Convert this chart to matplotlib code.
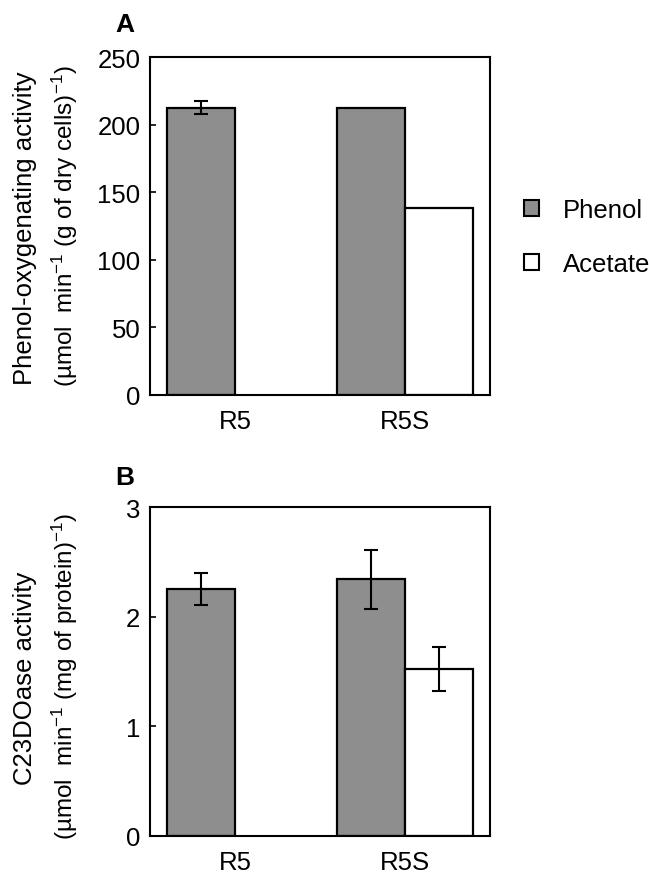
import numpy as np
import matplotlib
matplotlib.use("Agg")
import matplotlib.pyplot as plt
from matplotlib.patches import Patch

plt.rcParams["font.family"] = ["Liberation Sans", "DejaVu Sans"]
plt.rcParams["mathtext.fontset"] = "custom"
plt.rcParams["mathtext.rm"] = "Liberation Sans"
plt.rcParams["mathtext.it"] = "Liberation Sans:italic"

strains = ["R5", "R5S"]

# panel A: phenol-oxygenating activity
phenol_a = [212.5, 212.5]
phenol_a_err = [5, np.nan]
acetate_a = [np.nan, 138]
acetate_a_err = [np.nan, np.nan]

# panel B: C23DOase activity
phenol_b = [2.25, 2.34]
phenol_b_err = [0.145, 0.27]
acetate_b = [np.nan, 1.52]
acetate_b_err = [np.nan, 0.2]

gray = "#8e8e8e"
x = np.arange(len(strains))
w = 0.4
fs = 18.5

fig = plt.figure(figsize=(6.49, 8.79), dpi=100)
axA = fig.add_axes([0.2311, 0.5495, 0.5239, 0.3845])
axB = fig.add_axes([0.2311, 0.0478, 0.5239, 0.3742])


def draw(ax, ph, ph_err, ac, ac_err, ylim, yticks):
    ax.bar(x - w / 2, ph, w, color=gray, edgecolor="black", linewidth=1.6, zorder=2)
    ax.bar(x + w / 2, ac, w, color="white", edgecolor="black", linewidth=1.6, zorder=2)
    ax.errorbar(x - w / 2, ph, yerr=ph_err, fmt="none", ecolor="black",
                elinewidth=1.5, capsize=5, capthick=1.5, zorder=3)
    ax.errorbar(x + w / 2, ac, yerr=ac_err, fmt="none", ecolor="black",
                elinewidth=1.5, capsize=5, capthick=1.5, zorder=3)
    ax.set_xlim(-0.5, 1.5)
    ax.set_ylim(*ylim)
    ax.set_yticks(yticks)
    ax.set_xticks(x)
    ax.set_xticklabels(strains)
    ax.tick_params(axis="y", direction="in", length=4, width=1.2, labelsize=fs, pad=7)
    ax.tick_params(axis="x", length=0, labelsize=fs, pad=10)
    for s in ax.spines.values():
        s.set_linewidth(1.5)


draw(axA, phenol_a, phenol_a_err, acetate_a, acetate_a_err, (0, 250), [0, 50, 100, 150, 200, 250])
draw(axB, phenol_b, phenol_b_err, acetate_b, acetate_b_err, (0, 3), [0, 1, 2, 3])

# y labels (two lines each)
fig.text(25 / 649, 1 - 228 / 879, "Phenol-oxygenating activity", rotation=90,
         ha="center", va="center", fontsize=fs)
fig.text(65 / 649, 1 - 226 / 879, r"(µmol  min$^{-1}$ (g of dry cells)$^{-1}$)",
         rotation=90, ha="center", va="center", fontsize=17.5)
fig.text(25 / 649, 1 - 678 / 879, "C23DOase activity", rotation=90,
         ha="center", va="center", fontsize=fs)
fig.text(65 / 649, 1 - 676 / 879, r"(µmol  min$^{-1}$ (mg of protein)$^{-1}$)",
         rotation=90, ha="center", va="center", fontsize=17.5)

# panel letters
fig.text(125 / 649, 1 - 25 / 879, "A", fontsize=19, fontweight="bold", ha="center", va="center")
fig.text(125 / 649, 1 - 478 / 879, "B", fontsize=19, fontweight="bold", ha="center", va="center")

# legend
handles = [Patch(facecolor=gray, edgecolor="black", linewidth=1.5),
           Patch(facecolor="white", edgecolor="black", linewidth=1.5)]
fig.legend(handles, ["Phenol", "Acetate"], loc="center left",
           bbox_to_anchor=(524 / 649, 1 - 238 / 879), frameon=False, fontsize=fs,
           borderpad=0, borderaxespad=0,
           handlelength=0.6, handleheight=0.6, handletextpad=0.9, labelspacing=1.15)

fig.savefig("out.png", dpi=100)
